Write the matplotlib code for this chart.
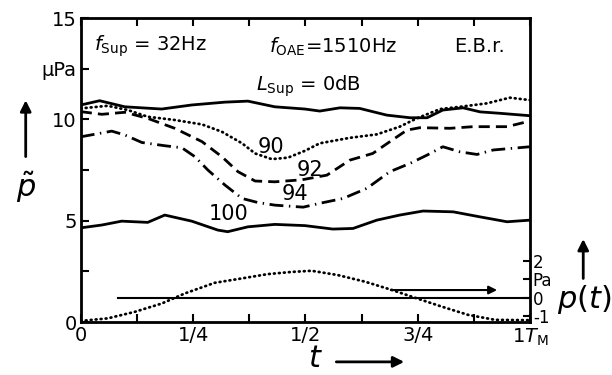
import matplotlib
matplotlib.use("Agg")
import matplotlib.pyplot as plt

# Verlauf ueber eine Periode T_M
t_0db = [0, 0.042, 0.098, 0.18, 0.247, 0.321, 0.372, 0.432, 0.499, 0.532, 0.577, 0.621,
         0.681, 0.733, 0.771, 0.806, 0.851, 0.889, 0.933, 1.0]
p_0db = [10.71, 10.92, 10.62, 10.51, 10.71, 10.85, 10.9, 10.62, 10.51, 10.41, 10.57, 10.54,
         10.21, 10.08, 10.08, 10.46, 10.57, 10.37, 10.3, 10.18]

t_90 = [0, 0.06, 0.105, 0.149, 0.209, 0.27, 0.314, 0.359, 0.388, 0.425, 0.461, 0.499, 0.532,
        0.599, 0.659, 0.71, 0.748, 0.8, 0.844, 0.904, 0.955, 1.0]
p_90 = [10.54, 10.67, 10.46, 10.13, 9.97, 9.75, 9.39, 8.82, 8.32, 8.04, 8.11, 8.45, 8.82,
        9.09, 9.26, 9.64, 10.05, 10.51, 10.62, 10.79, 11.07, 10.95]

t_92 = [0, 0.047, 0.098, 0.149, 0.209, 0.27, 0.314, 0.35, 0.388, 0.432, 0.492, 0.548, 0.599,
        0.65, 0.688, 0.726, 0.755, 0.822, 0.873, 0.949, 1.0]
p_92 = [10.38, 10.25, 10.35, 10.05, 9.56, 8.9, 8.16, 7.42, 6.96, 6.92, 7.02, 7.25, 7.99,
        8.32, 8.9, 9.47, 9.59, 9.56, 9.64, 9.64, 9.92]

t_94 = [0, 0.069, 0.098, 0.136, 0.187, 0.225, 0.254, 0.283, 0.321, 0.359, 0.394, 0.432, 0.495,
        0.532, 0.584, 0.637, 0.688, 0.733, 0.771, 0.806, 0.844, 0.882, 0.918, 1.0]
p_94 = [9.14, 9.42, 9.23, 8.86, 8.7, 8.6, 8.16, 7.5, 6.76, 6.1, 5.9, 5.77, 5.67,
        5.86, 6.1, 6.6, 7.42, 7.83, 8.24, 8.65, 8.4, 8.27, 8.49, 8.65]

t_100 = [0, 0.047, 0.091, 0.149, 0.187, 0.247, 0.305, 0.327, 0.372, 0.432, 0.499, 0.561,
         0.606, 0.659, 0.71, 0.762, 0.829, 0.889, 0.949, 1.0]
p_100 = [4.65, 4.79, 4.98, 4.92, 5.28, 4.98, 4.54, 4.46, 4.7, 4.82, 4.76, 4.59,
         4.62, 5.03, 5.28, 5.48, 5.44, 5.19, 4.95, 5.03]

# Suppressorton p(t) in Pa
t_sup = [0, 0.06, 0.12, 0.18, 0.232, 0.298, 0.359, 0.416, 0.47, 0.514, 0.572, 0.633, 0.693,
         0.737, 0.804, 0.862, 0.922, 1.0]
p_sup = [-1.26, -1.12, -0.77, -0.32, 0.23, 0.8, 1.04, 1.27, 1.39, 1.45, 1.22, 0.86, 0.41,
         0.05, -0.49, -0.93, -1.2, -1.22]

ticks_x = [0, 1/8, 1/4, 3/8, 1/2, 5/8, 3/4, 7/8, 1]
ticks_x_lab = ["0", "", "1/4", "", "1/2", "", "3/4", "", "1$T_{\\rm M}$"]
ticks_y = [0, 2.5, 5, 7.5, 10, 12.5, 15]
ticks_y_lab = ["0", "", "5", "", "10", "\u03bcPa", "15"]
ticks_p = [-1, 0, 1, 2]
ticks_p_lab = ["-1", "0", "Pa", "2"]

plt.rcParams['font.family'] = ['DejaVu Sans']
plt.rcParams['mathtext.fontset'] = 'dejavusans'

fig = plt.figure(figsize=(6.12, 3.75), dpi=100)
ax = fig.add_axes([0.132, 0.141, 0.734, 0.811])
lw = 2.0
dots = (0, (0.3, 1.5))
ax.plot(t_0db, p_0db, color="black", lw=lw)
ax.plot(t_90, p_90, color="black", lw=lw, linestyle=dots, dash_capstyle="round")
ax.plot(t_92, p_92, color="black", lw=lw, linestyle=(0, (4, 2.2)))
ax.plot(t_94, p_94, color="black", lw=lw, linestyle=(0, (5, 2, 0.5, 2)))
ax.plot(t_100, p_100, color="black", lw=lw)
ax.set_xlim(0, 1)
ax.set_ylim(0, 15)
ax.set_xticks(ticks_x)
ax.set_xticklabels(ticks_x_lab)
ax.set_yticks(ticks_y)
ax.set_yticklabels(ticks_y_lab)
ax.tick_params(direction="in", length=6, width=1.5, labelsize=14, pad=3, top=True)
for s in ax.spines.values():
    s.set_linewidth(2)

ax2 = ax.twinx()
ax2.plot(t_sup, p_sup, color="black", lw=lw, linestyle=dots, dash_capstyle="round")
ax2.plot([0.082, 1.0], [0, 0], color="black", lw=1.5)
ax2.annotate("", xy=(0.933, 0.41), xytext=(0.684, 0.41),
             arrowprops=dict(arrowstyle="-|>", color="black", lw=1.5, mutation_scale=12))
ax2.set_ylim(-1.324, 15.11)
ax2.set_yticks(ticks_p)
ax2.set_yticklabels(ticks_p_lab)
ax2.tick_params(direction="in", length=5, width=1.5, labelsize=12, pad=2)

# Texte im Diagramm
ax.text(0.03, 13.6, "$f_{\\rm Sup}$ = 32Hz", fontsize=14, va="center")
ax.text(0.42, 13.6, "$f_{\\rm OAE}$=1510Hz", fontsize=14, va="center")
ax.text(0.83, 13.6, "E.B.r.", fontsize=14, va="center")
ax.text(0.39, 11.65, "$L_{\\rm Sup}$ = 0dB", fontsize=14, va="center")
ax.text(0.393, 8.66, "90", fontsize=15, va="center")
ax.text(0.48, 7.5, "92", fontsize=15, va="center")
ax.text(0.447, 6.3, "94", fontsize=15, va="center")
ax.text(0.285, 5.35, "100", fontsize=15, va="center")

# Achsenbeschriftungen mit Pfeilen
fig.text(0.042, 0.5, "$\\tilde{p}$", fontsize=22, ha="center", va="center")
ax.annotate("", xy=(0.042, 0.74), xytext=(0.042, 0.575), xycoords="figure fraction",
            arrowprops=dict(arrowstyle="-|>", color="black", lw=2, mutation_scale=16))
fig.text(0.515, 0.045, "$t$", fontsize=22, ha="center", va="center")
ax.annotate("", xy=(0.665, 0.035), xytext=(0.545, 0.035), xycoords="figure fraction",
            arrowprops=dict(arrowstyle="-|>", color="black", lw=2, mutation_scale=16))
fig.text(0.955, 0.2, "$p(t)$", fontsize=22, ha="center", va="center")
ax.annotate("", xy=(0.953, 0.37), xytext=(0.953, 0.25), xycoords="figure fraction",
            arrowprops=dict(arrowstyle="-|>", color="black", lw=2, mutation_scale=16))

fig.savefig("out.png", dpi=100)
